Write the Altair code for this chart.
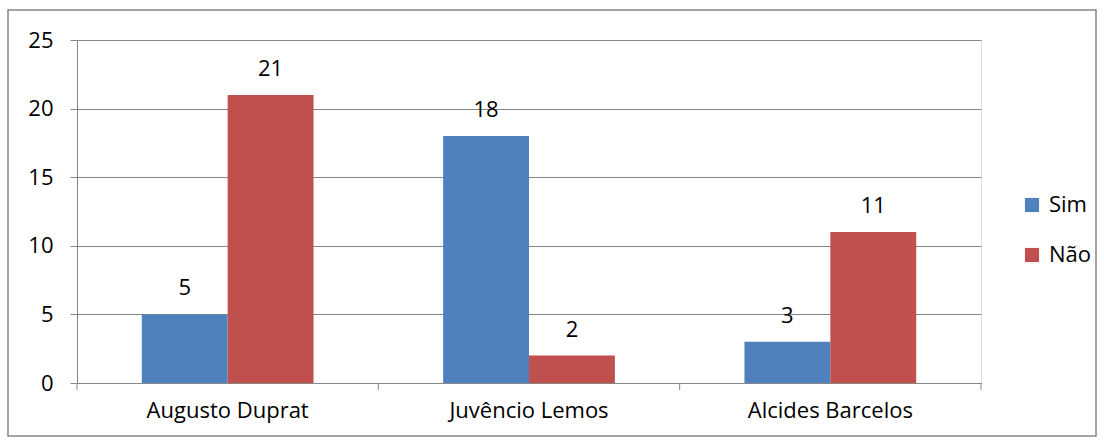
import altair as alt
import pandas as pd

candidates = ["Augusto Duprat", "Juvêncio Lemos", "Alcides Barcelos"]
sim = [5, 18, 3]
nao = [21, 2, 11]
series = ["Sim", "Não"]
y_ticks = [0, 5, 10, 15, 20, 25]

rows = []
for c, s, n in zip(candidates, sim, nao):
    rows.append({"cand": c, "serie": "Sim", "val": s})
    rows.append({"cand": c, "serie": "Não", "val": n})
df = pd.DataFrame(rows)

W, H = 904, 343
GRAY = "#868686"
FONT = "Open Sans"
FS = 22

xenc = alt.X("cand:N", sort=candidates, title=None,
             scale=alt.Scale(paddingInner=0.43, paddingOuter=0.215),
             axis=alt.Axis(labelAngle=0, ticks=False, domainColor=GRAY,
                           labelPadding=17, labelFontSize=FS, labelFont=FONT,
                           labelColor="black"))
yenc = alt.Y("val:Q", title=None,
             scale=alt.Scale(domain=[0, 25], nice=False),
             axis=alt.Axis(values=y_ticks, tickSize=7, tickColor=GRAY,
                           domainColor=GRAY, gridColor=GRAY, labelPadding=17,
                           labelFontSize=FS, labelFont=FONT, labelColor="black"))

base = alt.Chart(df)
bars = base.mark_bar().encode(
    x=xenc,
    xOffset=alt.XOffset("serie:N", sort=series),
    y=yenc,
    color=alt.Color("serie:N", sort=series,
                    scale=alt.Scale(domain=series, range=["#4F81BD", "#C0504D"]),
                    legend=alt.Legend(title=None, orient="none", legendX=944, legendY=154,
                                      symbolType="square", symbolSize=200,
                                      symbolStrokeWidth=0, rowPadding=28,
                                      labelFontSize=FS, labelFont=FONT,
                                      labelOffset=6, labelColor="black")),
)
labels = base.mark_text(baseline="bottom", dy=-14, fontSize=FS, font=FONT,
                        color="black").encode(
    x=alt.X("cand:N", sort=candidates),
    xOffset=alt.XOffset("serie:N", sort=series),
    y="val:Q",
    text="val:Q",
)

one = pd.DataFrame({"a": [0]})
border = alt.Chart(one).mark_rect(fillOpacity=0, stroke=GRAY, strokeWidth=1.5).encode(
    x=alt.value(-69), x2=alt.value(W + 115), y=alt.value(-30), y2=alt.value(H + 53))

ticks = [alt.Chart(one).mark_rule(color=GRAY).encode(
    x=alt.value(W * i / 3), y=alt.value(H), y2=alt.value(H + 7)) for i in range(4)]

chart = alt.layer(border, bars, labels, *ticks).properties(
    width=W, height=H,
    autosize=alt.AutoSizeParams(type="none"),
    padding={"left": 77, "top": 40, "right": 123, "bottom": 58},
).configure_view(stroke=None).configure(background="white")

chart.save("out.html", embed_options={"renderer": "svg", "actions": False})
